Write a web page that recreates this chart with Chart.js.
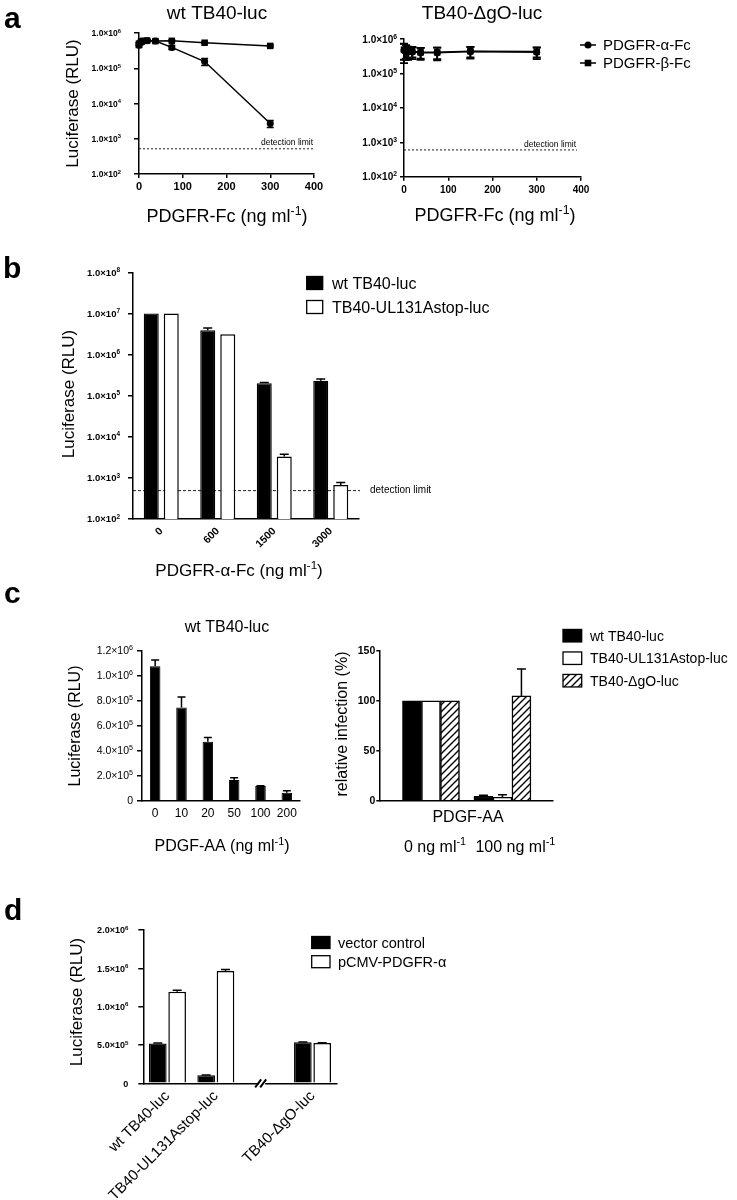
<!DOCTYPE html>
<html><head><meta charset="utf-8"><title>PDGFR figure</title>
<script src="https://cdn.jsdelivr.net/npm/chart.js@4.4.1/dist/chart.umd.min.js"></script>
<style>
html,body{margin:0;padding:0;background:#fff}
body{position:relative;width:737px;height:1200px;overflow:hidden}
canvas{position:absolute;display:block}
</style></head><body>
<canvas id="cA1"></canvas><canvas id="cA2"></canvas><canvas id="cB"></canvas>
<canvas id="cC1"></canvas><canvas id="cC2"></canvas><canvas id="cD"></canvas>
<script>
// ---------------- data: panel a ----------------
const aDoses = [0, 4.69, 9.38, 18.75, 37.5, 75, 150, 300];
const aSeriesNames = ['PDGFR-α-Fc', 'PDGFR-β-Fc'];
const aWtAlpha = [4.5e5, 5.4e5, 5.8e5, 6.0e5, 5.9e5, 3.9e5, 1.55e5, 2.7e3];
const aWtAlphaErr = [0.6e5, 0.5e5, 0.4e5, 0.3e5, 0.3e5, 0.5e5, 0.35e5, 0.6e3];
const aWtBeta = [5.0e5, 5.8e5, 6.0e5, 6.1e5, 5.9e5, 6.0e5, 5.3e5, 4.3e5];
const aWtBetaErr = [0.4e5, 0.3e5, 0.3e5, 0.3e5, 0.3e5, 0.3e5, 0.3e5, 0.3e5];
const aDgoAlpha = [4.6e5, 4.5e5, 4.2e5, 4.2e5, 4.0e5, 4.0e5, 4.3e5, 4.1e5];
const aDgoAlphaErr = [2.6e5, 2.0e5, 1.7e5, 1.6e5, 1.5e5, 1.6e5, 1.6e5, 1.5e5];
const aDgoBeta = [4.9e5, 4.6e5, 4.4e5, 4.4e5, 4.1e5, 4.1e5, 4.4e5, 4.3e5];
const aDgoBetaErr = [2.4e5, 1.9e5, 1.6e5, 1.5e5, 1.4e5, 1.5e5, 1.5e5, 1.4e5];
const aLogTicks = [1e2, 1e3, 1e4, 1e5, 1e6];
const aLogTickLabels = ['1.0×10²', '1.0×10³', '1.0×10⁴', '1.0×10⁵', '1.0×10⁶'];
const aXTicks = [0, 100, 200, 300, 400];
const aDetLimitWt = 5.2e2;
const aDetLimitDgo = 6.0e2;

// ---------------- data: panel b ----------------
const bDoses = ['0', '600', '1500', '3000'];
const bNames = ['wt TB40-luc', 'TB40-UL131Astop-luc'];
const bWt = [1.0e7, 3.9e6, 2.0e5, 2.3e5];
const bWtErr = [0, 0.5e6, 0.1e5, 0.25e5];
const bStop = [1.0e7, 3.1e6, 3.3e3, 6.7e2];
const bStopErr = [0, 0, 0.45e3, 1.0e2];
const bLogTicks = [1e2, 1e3, 1e4, 1e5, 1e6, 1e7, 1e8];
const bLogTickLabels = ['1.0×10²', '1.0×10³', '1.0×10⁴', '1.0×10⁵', '1.0×10⁶', '1.0×10⁷', '1.0×10⁸'];
const bDetLimit = 4.9e2;

// ---------------- data: panel c ----------------
const cDoses = ['0', '10', '20', '50', '100', '200'];
const cLuc = [1.075e6, 7.45e5, 4.72e5, 1.65e5, 1.17e5, 6.4e4];
const cLucErr = [0.05e6, 0.85e5, 0.33e5, 0.19e5, 0.03e5, 0.16e5];
const cLinTicks = [0, 2e5, 4e5, 6e5, 8e5, 1e6, 1.2e6];
const cLinTickLabels = ['0', '2.0×10⁵', '4.0×10⁵', '6.0×10⁵', '8.0×10⁵', '1.0×10⁶', '1.2×10⁶'];
const cGroups = ['0', '100'];
const cNames = ['wt TB40-luc', 'TB40-UL131Astop-luc', 'TB40-ΔgO-luc'];
const cRelWt = [100, 4.5];
const cRelWtErr = [0, 1.0];
const cRelStop = [100, 3.5];
const cRelStopErr = [0, 2.5];
const cRelDgo = [100, 105];
const cRelDgoErr = [0, 27];
const cRelTicks = [0, 50, 100, 150];

// ---------------- data: panel d ----------------
const dCats = ['wt TB40-luc', 'TB40-UL131Astop-luc', '', 'TB40-ΔgO-luc'];
const dNames = ['vector control', 'pCMV-PDGFR-α'];
const dVector = [5.2e5, 1.05e5, null, 5.35e5];
const dVectorErr = [0.05e5, 0.03e5, 0, 0.05e5];
const dPdgfr = [1.195e6, 1.465e6, null, 5.25e5];
const dPdgfrErr = [0.2e5, 0.2e5, 0, 0.05e5];
const dTicks = [0, 5e5, 1e6, 1.5e6, 2e6];
const dTickLabels = ['0', '5.0×10⁵', '1.0×10⁶', '1.5×10⁶', '2.0×10⁶'];

// ---------------- helpers ----------------
const FONT = '"Liberation Sans", Arial, Helvetica, sans-serif';
Chart.defaults.font.family = FONT;
Chart.defaults.color = '#000';

function setupCanvas(id, box) {
  const c = document.getElementById(id);
  c.width = box.w; c.height = box.h;
  c.style.left = box.x + 'px'; c.style.top = box.y + 'px';
  c.style.width = box.w + 'px'; c.style.height = box.h + 'px';
  return c;
}

function mkChart(c, box, plot, cfg, plugins) {
  const yW = plot.l - box.x - 2, xH = box.y + box.h - plot.b;
  const o = cfg.options;
  o.responsive = false; o.maintainAspectRatio = false; o.animation = false;
  o.devicePixelRatio = 1;
  o.layout = { padding: { left: 2, top: plot.t - box.y, right: box.x + box.w - plot.r, bottom: 0 } };
  o.scales.x.afterFit = s => { s.height = xH; };
  o.scales.y.afterFit = s => { s.width = yW; };
  o.plugins = Object.assign({ legend: { display: false }, tooltip: { enabled: false }, title: { display: false } }, o.plugins || {});
  o.events = [];
  cfg.plugins = plugins;
  return new Chart(c, cfg);
}

function richDraw(ctx, parts, x, y, size, weight, align) {
  const f = sup => `${weight} ${sup ? size * 0.68 : size}px ${FONT}`;
  let total = 0;
  parts.forEach(p => { ctx.font = f(p.s); p.w = ctx.measureText(p.t).width; total += p.w; });
  let cx = align === 'center' ? x - total / 2 : align === 'right' ? x - total : x;
  parts.forEach(p => { ctx.font = f(p.s); ctx.fillText(p.t, cx, p.s ? y - size * 0.4 : y); cx += p.w; });
}

// split a label like "1.0×10⁶" into base text and a superscript part
const SUPMAP = { '⁰': '0', '¹': '1', '²': '2', '³': '3', '⁴': '4', '⁵': '5', '⁶': '6', '⁷': '7', '⁸': '8', '⁹': '9', '⁻': '-' };
function splitSup(str) {
  let i = str.length;
  while (i > 0 && SUPMAP[str[i - 1]]) i--;
  const base = str.slice(0, i), ex = str.slice(i).split('').map(ch => SUPMAP[ch]).join('');
  return ex ? [{ t: base }, { t: ex, s: 1 }] : [{ t: base }];
}

// y tick labels with real superscripts, placed by the y scale
function yLabelLayer(labels, size, weight, gap) {
  return { id: 'yLabelLayer', afterDraw(ch) {
    const ctx = ch.ctx, ys = ch.scales.y;
    ctx.save(); ctx.fillStyle = '#000'; ctx.textAlign = 'left'; ctx.textBaseline = 'alphabetic';
    ys.ticks.forEach((tk, i) => {
      const y = ys.getPixelForValue(tk.value);
      richDraw(ctx, splitSup(labels[i]), ch.chartArea.left - gap, y + size * 0.36, size, weight, 'right');
    });
    ctx.restore();
  } };
}

function textLayer(box, items) {
  return { id: 'textLayer', afterDraw(ch) {
    const ctx = ch.ctx;
    items.forEach(it => {
      ctx.save(); ctx.fillStyle = '#000'; ctx.textBaseline = 'alphabetic'; ctx.textAlign = 'left';
      ctx.translate(it.x - box.x, it.y - box.y);
      if (it.r) ctx.rotate(it.r);
      const parts = typeof it.t === 'string' ? [{ t: it.t }] : it.t.map(p => Object.assign({}, p));
      richDraw(ctx, parts, 0, 0, it.s, it.w || 'normal', it.a || 'center');
      ctx.restore();
    });
  } };
}

function errLayer(cap, lw) {
  return { id: 'errLayer', afterDatasetsDraw(ch) {
    const ctx = ch.ctx, ys = ch.scales.y;
    ctx.save(); ctx.strokeStyle = '#000'; ctx.lineWidth = lw; ctx.setLineDash([]);
    ch.data.datasets.forEach((ds, i) => {
      if (!ds.errors) return;
      const meta = ch.getDatasetMeta(i);
      meta.data.forEach((el, j) => {
        const raw = ds.data[j];
        const v = raw !== null && typeof raw === 'object' ? raw.y : raw;
        const e = ds.errors[j];
        if (v == null || !e) return;
        const x = el.x;
        const yT = ys.getPixelForValue(v + e);
        let yB = el.y, lowCap = false;
        if (ds.errBoth) {
          const lo = v - e;
          if (lo > ys.min) { yB = ys.getPixelForValue(lo); lowCap = true; } else { yB = ys.bottom; }
        }
        ctx.beginPath();
        ctx.moveTo(x, yB); ctx.lineTo(x, yT);
        ctx.moveTo(x - cap / 2, yT); ctx.lineTo(x + cap / 2, yT);
        if (lowCap) { ctx.moveTo(x - cap / 2, yB); ctx.lineTo(x + cap / 2, yB); }
        ctx.stroke();
      });
    });
    ctx.restore();
  } };
}

function detLayer(value, dash, endPageX, box) {
  return { id: 'detLayer', beforeDatasetsDraw(ch) {
    const ctx = ch.ctx, a = ch.chartArea, y = ch.scales.y.getPixelForValue(value);
    ctx.save(); ctx.strokeStyle = '#222'; ctx.lineWidth = 1; ctx.setLineDash(dash);
    ctx.beginPath(); ctx.moveTo(a.left, y); ctx.lineTo(endPageX - box.x, y); ctx.stroke();
    ctx.restore();
  } };
}

function legendLayer(box, spec) {
  return { id: 'legendLayer', afterDraw(ch) {
    const ctx = ch.ctx;
    ctx.save();
    ch.data.datasets.forEach((ds, i) => {
      const cy = spec.y + i * spec.dy - box.y, x0 = spec.x - box.x;
      if (spec.kind === 'line') {
        ctx.strokeStyle = '#000'; ctx.lineWidth = 1.5;
        ctx.beginPath(); ctx.moveTo(x0, cy); ctx.lineTo(x0 + spec.lw, cy); ctx.stroke();
        ctx.fillStyle = '#000';
        const mx = x0 + spec.lw / 2;
        if (ds.pointStyle === 'rect') ctx.fillRect(mx - 3.3, cy - 3.3, 6.6, 6.6);
        else { ctx.beginPath(); ctx.arc(mx, cy, 3.5, 0, Math.PI * 2); ctx.fill(); }
      } else {
        ctx.fillStyle = ds.backgroundColor;
        ctx.fillRect(x0, cy - spec.bh / 2, spec.bw, spec.bh);
        ctx.strokeStyle = '#000'; ctx.lineWidth = 1.3;
        ctx.strokeRect(x0, cy - spec.bh / 2, spec.bw, spec.bh);
      }
      ctx.fillStyle = '#000'; ctx.textAlign = 'left'; ctx.textBaseline = 'alphabetic';
      ctx.font = `${spec.s}px ${FONT}`;
      ctx.fillText(ds.label, spec.tx - box.x, cy + spec.s * 0.36);
    });
    ctx.restore();
  } };
}

function axisGrid(tl) {
  return {
    grid: { display: tl > 0, drawOnChartArea: false, drawTicks: tl > 0, tickLength: tl, color: '#000', lineWidth: 1.5 },
    border: { display: true, color: '#000', width: 1.5 }
  };
}

function fixedTicks(values) { return s => { s.ticks = values.map(v => ({ value: v })); }; }

function lineDs(label, xs, ys, errs, style, radius) {
  return {
    label, data: xs.map((x, i) => ({ x, y: ys[i] })), errors: errs, errBoth: true,
    borderColor: '#000', backgroundColor: '#000', borderWidth: 1.5, pointStyle: style,
    pointRadius: radius, pointBorderWidth: 0, pointBackgroundColor: '#000', tension: 0, fill: false, clip: false
  };
}

const sup = (a, b, c) => [{ t: a }, { t: b, s: 1 }, { t: c || '' }];

// ---------------- panel a, left ----------------
(function () {
  const box = { x: 0, y: 0, w: 340, h: 240 };
  const plot = { l: 139, t: 33, r: 314, b: 174 };
  const c = setupCanvas('cA1', box);
  mkChart(c, box, plot, {
    type: 'line',
    data: { datasets: [
      lineDs(aSeriesNames[0], aDoses, aWtAlpha, aWtAlphaErr, 'circle', 3.5),
      lineDs(aSeriesNames[1], aDoses, aWtBeta, aWtBetaErr, 'rect', 4.6)
    ] },
    options: { scales: {
      x: Object.assign({ type: 'linear', min: 0, max: 400, afterBuildTicks: fixedTicks(aXTicks),
        ticks: { font: { size: 11, weight: 'bold' }, padding: 2, maxRotation: 0, autoSkip: false, callback: v => String(v) } }, axisGrid(4)),
      y: Object.assign({ type: 'logarithmic', min: 1e2, max: 1e6, afterBuildTicks: fixedTicks(aLogTicks),
        ticks: { display: false, autoSkip: false } }, axisGrid(5))
    } }
  }, [detLayer(aDetLimitWt, [2, 2], 313, box), errLayer(7, 1.5), yLabelLayer(aLogTickLabels, 8.5, 'bold', 18), textLayer(box, [
    { t: 'a', x: 4, y: 28, s: 30, w: 'bold', a: 'left' },
    { t: 'wt TB40-luc', x: 217, y: 18.5, s: 19 },
    { t: 'Luciferase (RLU)', x: 77.5, y: 103.5, s: 17, r: -Math.PI / 2 },
    { t: sup('PDGFR-Fc (ng ml', '-1', ')'), x: 227, y: 222, s: 18 },
    { t: 'detection limit', x: 313, y: 145, s: 8.5, a: 'right' }
  ])]);
})();

// ---------------- panel a, right ----------------
(function () {
  const box = { x: 340, y: 0, w: 397, h: 240 };
  const plot = { l: 404, t: 39, r: 581, b: 176.7 };
  const c = setupCanvas('cA2', box);
  mkChart(c, box, plot, {
    type: 'line',
    data: { datasets: [
      lineDs(aSeriesNames[0], aDoses, aDgoAlpha, aDgoAlphaErr, 'circle', 3.5),
      lineDs(aSeriesNames[1], aDoses, aDgoBeta, aDgoBetaErr, 'rect', 4.6)
    ] },
    options: { scales: {
      x: Object.assign({ type: 'linear', min: 0, max: 400, afterBuildTicks: fixedTicks(aXTicks),
        ticks: { font: { size: 10, weight: 'bold' }, padding: 4, maxRotation: 0, autoSkip: false, callback: v => String(v) } }, axisGrid(4)),
      y: Object.assign({ type: 'logarithmic', min: 1e2, max: 1e6, afterBuildTicks: fixedTicks(aLogTicks),
        ticks: { display: false, autoSkip: false } }, axisGrid(4))
    } }
  }, [detLayer(aDetLimitDgo, [2, 2], 577, box), errLayer(8, 1.8), yLabelLayer(aLogTickLabels, 10, 'bold', 7),
      legendLayer(box, { kind: 'line', x: 580, y: 45, dy: 18, lw: 16, tx: 603, s: 15 }), textLayer(box, [
    { t: 'TB40-ΔgO-luc', x: 482, y: 18.5, s: 19 },
    { t: sup('PDGFR-Fc (ng ml', '-1', ')'), x: 495, y: 221, s: 18 },
    { t: 'detection limit', x: 576, y: 147, s: 8.5, a: 'right' }
  ])]);
})();

// ---------------- panel b ----------------
(function () {
  const box = { x: 0, y: 245, w: 737, h: 345 };
  const plot = { l: 133, t: 272.3, r: 359, b: 519 };
  const c = setupCanvas('cB', box);
  mkChart(c, box, plot, {
    type: 'bar',
    data: { labels: bDoses, datasets: [
      { label: bNames[0], data: bWt, errors: bWtErr, backgroundColor: '#000', borderColor: '#000', borderWidth: 1.3, categoryPercentage: 0.708, barPercentage: 0.75 },
      { label: bNames[1], data: bStop, errors: bStopErr, backgroundColor: '#fff', borderColor: '#000', borderWidth: 1.5, categoryPercentage: 0.708, barPercentage: 0.75 }
    ] },
    options: { scales: {
      x: Object.assign({ type: 'category', ticks: { font: { size: 10.5, weight: 'bold' }, padding: 6, minRotation: 45, maxRotation: 45, autoSkip: false } }, axisGrid(0)),
      y: Object.assign({ type: 'logarithmic', min: 1e2, max: 1e8, afterBuildTicks: fixedTicks(bLogTicks),
        ticks: { display: false, autoSkip: false } }, axisGrid(5))
    } }
  }, [detLayer(bDetLimit, [3, 2], 360, box), errLayer(9, 1.5), yLabelLayer(bLogTickLabels, 9.5, 'bold', 13),
      legendLayer(box, { kind: 'box', x: 306.7, y: 283, dy: 24, bw: 16, bh: 13, tx: 332, s: 16 }), textLayer(box, [
    { t: 'b', x: 3, y: 278, s: 30, w: 'bold', a: 'left' },
    { t: 'Luciferase (RLU)', x: 74, y: 394, s: 17, r: -Math.PI / 2 },
    { t: sup('PDGFR-α-Fc (ng ml', '-1', ')'), x: 239, y: 576, s: 17 },
    { t: 'detection limit', x: 370, y: 493, s: 10, a: 'left' }
  ])]);
})();

// ---------------- panel c, left ----------------
(function () {
  const box = { x: 0, y: 585, w: 330, h: 275 };
  const plot = { l: 142, t: 650.7, r: 300, b: 800.7 };
  const c = setupCanvas('cC1', box);
  mkChart(c, box, plot, {
    type: 'bar',
    data: { labels: cDoses, datasets: [
      { label: 'wt TB40-luc', data: cLuc, errors: cLucErr, backgroundColor: '#000', borderColor: '#000', borderWidth: 1, categoryPercentage: 1, barPercentage: 0.4 }
    ] },
    options: { scales: {
      x: Object.assign({ type: 'category', ticks: { font: { size: 12 }, padding: 6, maxRotation: 0, autoSkip: false } }, axisGrid(0)),
      y: Object.assign({ type: 'linear', min: 0, max: 1.2e6, afterBuildTicks: fixedTicks(cLinTicks),
        ticks: { display: false, autoSkip: false } }, axisGrid(5))
    } }
  }, [errLayer(8, 1.5), yLabelLayer(cLinTickLabels, 10.5, 'normal', 9), textLayer(box, [
    { t: 'c', x: 4, y: 603, s: 30, w: 'bold', a: 'left' },
    { t: 'wt TB40-luc', x: 227, y: 631.5, s: 16 },
    { t: 'Luciferase (RLU)', x: 80, y: 726, s: 16, r: -Math.PI / 2 },
    { t: sup('PDGF-AA (ng ml', '-1', ')'), x: 222, y: 851, s: 16 }
  ])]);
})();

// ---------------- panel c, right ----------------
(function () {
  const box = { x: 330, y: 585, w: 407, h: 275 };
  const plot = { l: 379.3, t: 651, r: 552.7, b: 800.7 };
  const c = setupCanvas('cC2', box);
  const tile = document.createElement('canvas'); tile.width = 7; tile.height = 7;
  const tc = tile.getContext('2d');
  tc.fillStyle = '#fff'; tc.fillRect(0, 0, 7, 7);
  tc.strokeStyle = '#000'; tc.lineWidth = 1.4;
  tc.beginPath(); tc.moveTo(0, 7); tc.lineTo(7, 0); tc.moveTo(-1, 1); tc.lineTo(1, -1); tc.moveTo(6, 8); tc.lineTo(8, 6); tc.stroke();
  const hatch = c.getContext('2d').createPattern(tile, 'repeat');
  const pts = arr => arr.map((v, i) => ({ x: i, y: v }));
  const groupLabels = { id: 'groupLabels', afterDraw(ch) {
    const ctx = ch.ctx, xs = ch.scales.x;
    cGroups.forEach((g, i) => {
      ctx.save(); ctx.fillStyle = '#000'; ctx.textAlign = 'left'; ctx.textBaseline = 'alphabetic';
      richDraw(ctx, sup(g + ' ng ml', '-1'), xs.getPixelForValue(i) - 27, 851.5 - box.y, 16, 'normal', 'left');
      ctx.restore();
    });
  } };
  mkChart(c, box, plot, {
    type: 'bar',
    data: { datasets: [
      { label: cNames[0], data: pts(cRelWt), errors: cRelWtErr, backgroundColor: '#000', borderColor: '#000', borderWidth: 1.3, barThickness: 19 },
      { label: cNames[1], data: pts(cRelStop), errors: cRelStopErr, backgroundColor: '#fff', borderColor: '#000', borderWidth: 1.5, barThickness: 19 },
      { label: cNames[2], data: pts(cRelDgo), errors: cRelDgoErr, backgroundColor: hatch, borderColor: '#000', borderWidth: 1.5, barThickness: 19 }
    ] },
    options: { scales: {
      x: Object.assign({ type: 'linear', min: -0.42, max: 1.4, ticks: { display: false } }, axisGrid(0)),
      y: Object.assign({ type: 'linear', min: 0, max: 150, afterBuildTicks: fixedTicks(cRelTicks),
        ticks: { font: { size: 10.5, weight: 'bold' }, padding: 1, autoSkip: false, callback: v => String(v) } }, axisGrid(3))
    } }
  }, [errLayer(9, 1.5), groupLabels, legendLayer(box, { kind: 'box', x: 563, y: 635.7, dy: 22.5, bw: 18.7, bh: 12.5, tx: 590, s: 14 }), textLayer(box, [
    { t: 'relative infection (%)', x: 346.5, y: 724, s: 16, r: -Math.PI / 2 },
    { t: 'PDGF-AA', x: 468, y: 821.5, s: 16 }
  ])]);
})();

// ---------------- panel d ----------------
(function () {
  const box = { x: 0, y: 880, w: 737, h: 320 };
  const plot = { l: 143.3, t: 930, r: 336.7, b: 1083.3 };
  const c = setupCanvas('cD', box);
  const axisBreak = { id: 'axisBreak', afterDraw(ch) {
    const ctx = ch.ctx, x = ch.scales.x.getPixelForValue(2) - 2, y = ch.chartArea.bottom;
    ctx.save();
    ctx.fillStyle = '#fff'; ctx.fillRect(x - 3, y - 2, 6, 4);
    ctx.strokeStyle = '#000'; ctx.lineWidth = 2;
    ctx.beginPath();
    ctx.moveTo(x - 7, y + 4); ctx.lineTo(x - 1, y - 4);
    ctx.moveTo(x - 2, y + 4); ctx.lineTo(x + 4, y - 4);
    ctx.stroke(); ctx.restore();
  } };
  mkChart(c, box, plot, {
    type: 'bar',
    data: { labels: dCats, datasets: [
      { label: dNames[0], data: dVector, errors: dVectorErr, backgroundColor: '#000', borderColor: '#000', borderWidth: 1.3, categoryPercentage: 0.8, barPercentage: 0.912 },
      { label: dNames[1], data: dPdgfr, errors: dPdgfrErr, backgroundColor: '#fff', borderColor: '#000', borderWidth: 1.5, categoryPercentage: 0.8, barPercentage: 0.912 }
    ] },
    options: { scales: {
      x: Object.assign({ type: 'category', ticks: { font: { size: 15 }, padding: 4, minRotation: 45, maxRotation: 45, autoSkip: false } }, axisGrid(0)),
      y: Object.assign({ type: 'linear', min: 0, max: 2e6, afterBuildTicks: fixedTicks(dTicks),
        ticks: { display: false, autoSkip: false } }, axisGrid(5))
    } }
  }, [errLayer(9, 1.5), axisBreak, yLabelLayer(dTickLabels, 9, 'bold', 15),
      legendLayer(box, { kind: 'box', x: 311.7, y: 942.5, dy: 19.2, bw: 18.3, bh: 12, tx: 338, s: 14.5 }), textLayer(box, [
    { t: 'd', x: 4, y: 920, s: 30, w: 'bold', a: 'left' },
    { t: 'Luciferase (RLU)', x: 82.4, y: 1002, s: 17, r: -Math.PI / 2 }
  ])]);
})();
</script>
</body></html>
